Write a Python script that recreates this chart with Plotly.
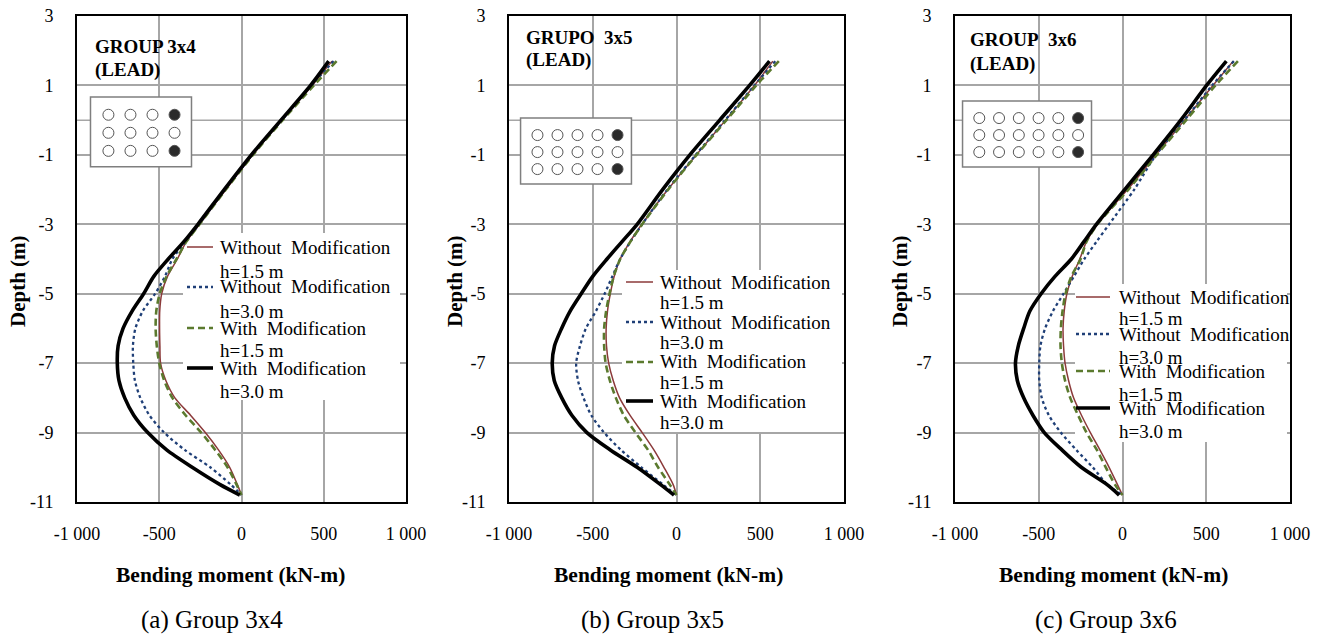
import plotly.graph_objects as go

W, H = 1322, 637

# ---------------- data ----------------
DEPTH = [1.7, 1.0, 0.0, -1.0, -2.0, -3.0, -3.5, -4.0, -4.5, -5.0, -5.5, -6.0,
         -6.5, -7.0, -7.5, -8.0, -8.5, -9.0, -9.5, -10.0, -10.5, -10.8]

SERIES_NAMES = ["Without Modification h=1.5 m", "Without Modification h=3.0 m",
                "With Modification h=1.5 m", "With Modification h=3.0 m"]

# Group 3x4
A_WO15 = [550, 430, 245, 68, -95, -255, -335, -390, -450, -485, -497, -498,
          -496, -492, -460, -405, -310, -220, -140, -72, -25, 0]
A_WO30 = [560, 425, 245, 65, -100, -258, -340, -420, -465, -525, -600, -645,
          -660, -658, -648, -615, -560, -470, -345, -190, -65, 0]
A_W15 = [578, 440, 250, 70, -95, -255, -335, -395, -455, -497, -518, -522,
         -515, -500, -470, -420, -340, -245, -160, -85, -30, 0]
A_W30 = [530, 420, 240, 60, -105, -265, -350, -445, -533, -595, -665, -720,
         -750, -755, -745, -710, -655, -570, -455, -300, -130, -10]

# Group 3x5
B_WO15 = [575, 465, 293, 118, -52, -207, -277, -336, -372, -395, -412, -420,
          -418, -405, -378, -340, -278, -205, -135, -75, -20, 0]
B_WO30 = [590, 465, 290, 115, -55, -205, -275, -336, -383, -429, -481, -541,
          -576, -599, -588, -555, -509, -432, -332, -210, -80, 0]
B_W15 = [611, 476, 298, 120, -50, -205, -275, -336, -375, -400, -420, -432,
         -432, -423, -398, -362, -315, -245, -170, -110, -40, 0]
B_W30 = [555, 436, 258, 80, -83, -235, -325, -415, -500, -569, -635, -686,
         -728, -742, -730, -685, -625, -535, -395, -235, -95, -15]

# Group 3x6
C_WO15 = [661, 540, 370, 200, 30, -150, -215, -255, -300, -332, -348, -355,
          -352, -343, -322, -292, -245, -192, -135, -80, -30, 0]
C_WO30 = [665, 535, 370, 200, 70, -80, -155, -228, -290, -352, -415, -462,
          -490, -497, -497, -482, -440, -368, -276, -178, -90, 0]
C_W15 = [689, 555, 380, 205, 35, -150, -215, -250, -305, -340, -358, -368,
         -370, -362, -343, -312, -265, -215, -153, -100, -45, 0]
C_W30 = [620, 502, 348, 183, 13, -156, -230, -305, -403, -486, -553, -590,
         -622, -639, -628, -590, -535, -467, -362, -246, -92, -20]

PANELS = [
    {"series": [A_WO15, A_WO30, A_W15, A_W30], "cols": 4,
     "title": ["GROUP 3x4", "(LEAD)"], "caption": "(a) Group 3x4"},
    {"series": [B_WO15, B_WO30, B_W15, B_W30], "cols": 5,
     "title": ["GRUPO\u00a0 3x5", "(LEAD)"], "caption": "(b) Group 3x5"},
    {"series": [C_WO15, C_WO30, C_W15, C_W30], "cols": 6,
     "title": ["GROUP\u00a0 3x6", "(LEAD)"], "caption": "(c) Group 3x6"},
]

X_TICKS = [-1000, -500, 0, 500, 1000]
X_TICKTEXT = ["-1 000", "-500", "0", "500", "1 000"]
Y_TICKS = [3, 1, -1, -3, -5, -7, -9, -11]
Y_TICKTEXT = ["3", "1", "-1", "-3", "-5", "-7", "-9", "-11"]

LEGEND_LINES = [["Without\u00a0 Modification", "h=1.5 m"],
                ["Without\u00a0 Modification", "h=3.0 m"],
                ["With\u00a0 Modification", "h=1.5 m"],
                ["With\u00a0 Modification", "h=3.0 m"]]

# ---------------- styling / layout ----------------
STYLES = [dict(color="#8B3A3A", width=1.5),
          dict(color="#1F3F77", width=2.3, dash="dot"),
          dict(color="#5B7A2E", width=2.6, dash="7px,4px"),
          dict(color="#000000", width=3.6)]

SERIF = "Liberation Serif, Times New Roman, serif"
XR, YR = [-1000, 1000], [-11, 3]

def fx(px):
    return px / W

def fy(py):
    return 1 - py / H

# pixel geometry of each panel
GEOM = [
    dict(left=77, right=406, ytitle_x=18, xtitle_cx=231, cap_cx=212,
         title_x=93, title_y=[46, 70],
         leg_rect=[183, 233, 400, 400], leg_line=[187, 213], leg_text_x=218,
         leg_y=[247, 271, 287, 311, 328, 351, 368, 391],
         box=[-918, -304, 0.67, -1.34], c0=[-809, 0.155], dc=[134, -0.52]),
    dict(left=509, right=844, ytitle_x=455, xtitle_cx=668, cap_cx=652,
         title_x=524, title_y=[38, 60],
         leg_rect=[622, 270, 842, 432], leg_line=[626, 653], leg_text_x=658,
         leg_y=[282, 302, 322, 342, 362, 382, 401, 422],
         box=[-931, -269, 0.06, -1.84], c0=[-830, -0.43], dc=[119.5, -0.49]),
    dict(left=955, right=1290, ytitle_x=900, xtitle_cx=1113, cap_cx=1106,
         title_x=968, title_y=[40, 64],
         leg_rect=[1075, 284, 1287, 442], leg_line=[1076, 1110], leg_text_x=1117,
         leg_y=[297, 319, 334, 357, 371, 394, 408, 431],
         box=[-955, -185, 0.55, -1.35], c0=[-855, 0.06], dc=[118, -0.49]),
]
TOP, BOTTOM = 16, 502

fig = go.Figure()
shapes, annotations = [], []
layout_axes = {}

for i, (panel, g) in enumerate(zip(PANELS, GEOM)):
    sfx = "" if i == 0 else str(i + 1)
    xa, ya = "x" + sfx, "y" + sfx

    def dx(px, g=g):
        return XR[0] + (px - g["left"]) / (g["right"] - g["left"]) * (XR[1] - XR[0])

    def dy(py):
        return YR[1] - (py - TOP) / (BOTTOM - TOP) * (YR[1] - YR[0])

    for vals, name, st in zip(panel["series"], SERIES_NAMES, STYLES):
        fig.add_trace(go.Scatter(x=vals, y=DEPTH, mode="lines", name=name,
                                 line=dict(shape="spline", smoothing=0.8, **st),
                                 xaxis=xa, yaxis=ya, showlegend=False,
                                 hoverinfo="skip"))
    # pile-group inset
    px_, py_, cols_ = [], [], []
    for r in range(3):
        for c in range(panel["cols"]):
            px_.append(g["c0"][0] + c * g["dc"][0])
            py_.append(g["c0"][1] + r * g["dc"][1])
            lead = (c == panel["cols"] - 1) and r in (0, 2)
            cols_.append("#2b2b2b" if lead else "white")
    fig.add_trace(go.Scatter(x=px_, y=py_, mode="markers", xaxis=xa, yaxis=ya,
                             showlegend=False, hoverinfo="skip",
                             marker=dict(size=11, color=cols_,
                                         line=dict(color="#555555", width=1))))
    # extra grid line at ground level (0 m)
    shapes.append(dict(type="line", xref=xa, yref=ya, x0=XR[0], x1=XR[1],
                       y0=0, y1=0, line=dict(color="#a6a6a6", width=1.5),
                       layer="between"))
    b = g["box"]
    shapes.append(dict(type="rect", xref=xa, yref=ya, x0=b[0], x1=b[1],
                       y0=b[2], y1=b[3], fillcolor="white",
                       line=dict(color="#7f7f7f", width=1.5), layer="between"))
    # legend background + samples + text
    lr = g["leg_rect"]
    shapes.append(dict(type="rect", xref=xa, yref=ya,
                       x0=dx(lr[0]), x1=dx(lr[2]), y0=dy(lr[1]), y1=dy(lr[3]),
                       fillcolor="white", line=dict(width=0), layer="between"))
    for k, st in enumerate(STYLES):
        yy = dy(g["leg_y"][2 * k])
        shapes.append(dict(type="line", xref=xa, yref=ya,
                           x0=dx(g["leg_line"][0]), x1=dx(g["leg_line"][1]),
                           y0=yy, y1=yy, line=st, layer="above"))
        for j in range(2):
            annotations.append(dict(text=LEGEND_LINES[k][j], xref="paper",
                                    yref="paper", x=fx(g["leg_text_x"]),
                                    y=fy(g["leg_y"][2 * k + j]),
                                    xanchor="left", yanchor="middle",
                                    showarrow=False,
                                    font=dict(family=SERIF, size=19, color="black")))
    # panel title
    for j in range(2):
        annotations.append(dict(text="<b>%s</b>" % panel["title"][j], xref="paper",
                                yref="paper", x=fx(g["title_x"]), y=fy(g["title_y"][j]),
                                xanchor="left", yanchor="middle", showarrow=False,
                                font=dict(family=SERIF, size=19, color="black")))
    # axis titles and caption
    annotations.append(dict(text="<b>Bending moment (kN-m)</b>", xref="paper",
                            yref="paper", x=fx(g["xtitle_cx"]), y=fy(575),
                            xanchor="center", yanchor="middle", showarrow=False,
                            font=dict(family=SERIF, size=21.5, color="black")))
    annotations.append(dict(text="<b>Depth (m)</b>", xref="paper", yref="paper",
                            x=fx(g["ytitle_x"]), y=fy(281), textangle=-90,
                            xanchor="center", yanchor="middle", showarrow=False,
                            font=dict(family=SERIF, size=21, color="black")))
    annotations.append(dict(text=panel["caption"], xref="paper", yref="paper",
                            x=fx(g["cap_cx"]), y=fy(620), xanchor="center",
                            yanchor="middle", showarrow=False,
                            font=dict(family=SERIF, size=25, color="black")))

    axis_common = dict(showline=True, mirror=True, linecolor="black", linewidth=2,
                       showgrid=True, gridcolor="#a6a6a6", gridwidth=1.5,
                       zeroline=False, ticks="", fixedrange=True, automargin=False,
                       tickfont=dict(family=SERIF, size=18, color="black"))
    layout_axes["xaxis" + sfx] = dict(
        domain=[fx(g["left"]), fx(g["right"])], range=XR,
        tickvals=X_TICKS, ticktext=X_TICKTEXT, anchor=ya,
        ticklabelstandoff=14, **axis_common)
    layout_axes["yaxis" + sfx] = dict(
        domain=[fy(BOTTOM), fy(TOP)], range=YR,
        tickvals=Y_TICKS, ticktext=Y_TICKTEXT, anchor=xa,
        ticklabelstandoff=18, **axis_common)

fig.update_layout(width=W, height=H, margin=dict(l=0, r=0, t=0, b=0),
                  paper_bgcolor="white", plot_bgcolor="white",
                  showlegend=False, shapes=shapes, annotations=annotations,
                  **layout_axes)

fig.write_html("out.html")
